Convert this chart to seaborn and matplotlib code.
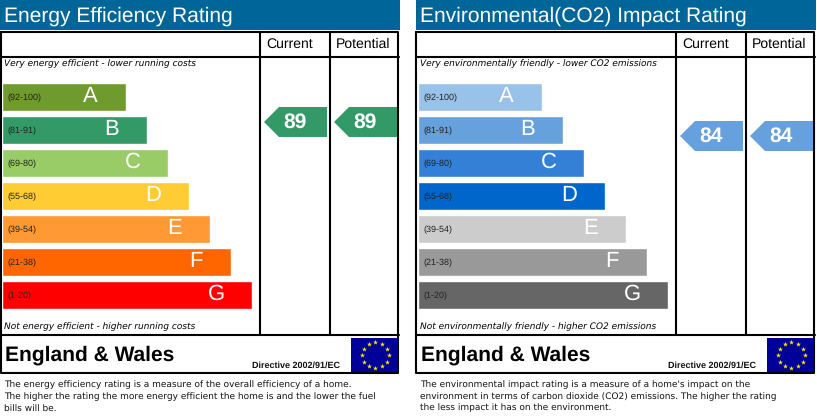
import numpy as np
import pandas as pd
import matplotlib
matplotlib.use('Agg')
import matplotlib.pyplot as plt
import seaborn as sns

W, H = 817, 419

bands = ['A', 'B', 'C', 'D', 'E', 'F', 'G']
ranges = ['(92-100)', '(81-91)', '(69-80)', '(55-68)', '(39-54)', '(21-38)', '(1-20)']
# bar lengths, same in both panels
lengths = [124, 145, 166, 187, 208, 229, 250]
energy_colors = ['#6f9a2e', '#339966', '#99cc66', '#ffcc33', '#ff9933', '#ff6600', '#ff0000']
co2_colors = ['#99c2eb', '#66a0dd', '#3380d6', '#0066cc', '#cccccc', '#999999', '#666666']

energy_current = 89
energy_potential = 89
co2_current = 84
co2_potential = 84

energy_title = 'Energy Efficiency Rating'
co2_title = 'Environmental(CO2) Impact Rating'
energy_top = 'Very energy efficient - lower running costs'
energy_bottom = 'Not energy efficient - higher running costs'
co2_top = 'Very environmentally friendly - lower CO2 emissions'
co2_bottom = 'Not environmentally friendly - higher CO2 emissions'
energy_notes = ['The energy efficiency rating is a measure of the overall efficiency of a home.',
                'The higher the rating the more energy efficient the home is and the lower the fuel',
                'bills will be.']
co2_notes = ["The environmental impact rating is a measure of a home's impact on the",
             'environment in terms of carbon dioxide (CO2) emissions. The higher the rating',
             'the less impact it has on the environment.']

sns.set_theme(style='white')
plt.rcParams['font.family'] = ['Liberation Sans', 'DejaVu Sans']
plt.rcParams['text.hinting'] = 'no_hinting'
plt.rcParams['text.hinting_factor'] = 1

fig = plt.figure(figsize=(W / 100, H / 100), dpi=100)
# page axes in pixel units, used for the frame and the text
page = fig.add_axes([0, 0, 1, 1])
page.set_xlim(0, W)
page.set_ylim(H, 0)
page.axis('off')


def rating_y(rating):
    # pointer height follows the rating: 89 sits at y=122, 84 at y=136
    return 122 + (89 - rating) * 2.8


def pointer(x0, rating, color):
    y = rating_y(rating)
    page.fill([x0, x0 + 15, x0 + 63, x0 + 63, x0 + 15],
              [y, y - 15, y - 15, y + 15, y + 15], color=color, lw=0, zorder=3)
    page.text(x0 + 31.5, y, str(rating), color='white', fontsize=14.8,
              fontweight='bold', ha='center', va='center', zorder=4)


def panel(x0, title, top, bottom, colors, current, potential, notes):
    page.fill_between([x0, x0 + 400], 0, 30, color='#006699', lw=0)
    page.text(x0 + 4, 16, title, color='white', fontsize=14.85, va='center')

    # frame
    lw = 1.5
    page.plot([x0 + 0.5, x0 + 398.5, x0 + 398.5, x0 + 0.5, x0 + 0.5],
              [32.5, 32.5, 373, 373, 32.5], color='black', lw=lw)
    page.plot([x0, x0 + 399], [57, 57], color='black', lw=lw)
    page.plot([x0, x0 + 399], [335, 335], color='black', lw=lw)
    page.plot([x0 + 260, x0 + 260], [32, 335], color='black', lw=lw)
    page.plot([x0 + 330, x0 + 330], [32, 335], color='black', lw=lw)
    page.text(x0 + 290, 44, 'Current', color='black', fontsize=10.3, ha='center', va='center')
    page.text(x0 + 363, 44, 'Potential', color='black', fontsize=10.3, ha='center', va='center')

    page.text(x0 + 4, 64, top, color='black', fontsize=6.6, style='italic',
              family='DejaVu Sans', va='center')
    page.text(x0 + 4, 327, bottom, color='black', fontsize=6.6, style='italic',
              family='DejaVu Sans', va='center')

    # bars get their own axes, 1 unit = 1 pixel along x
    left, right, upper, lower = x0 + 2, x0 + 258, 80.5, 311.5
    ax = fig.add_axes([left / W, 1 - lower / H, (right - left) / W, (lower - upper) / H])
    df = pd.DataFrame({'band': bands, 'length': lengths})
    sns.barplot(data=df, x='length', y='band', hue='band', palette=colors, order=bands,
                hue_order=bands, dodge=False, width=0.85, saturation=1, legend=False, ax=ax)
    ax.set_xlim(0, right - left)
    ax.set_ylim(6.5, -0.5)
    ax.axis('off')
    ax.patch.set_alpha(0)
    for i, (band, rng, length) in enumerate(zip(bands, ranges, lengths)):
        ax.text(5, i + 0.04, rng, color='#222222', fontsize=6.6, va='center')
        ax.text(length - 35.5, i - 0.03, band, color='white', fontsize=15.5, ha='center', va='center')

    pointer(x0 + 264, current, colors[1])
    pointer(x0 + 334, potential, colors[1])

    # footer
    page.text(x0 + 5, 355, 'England & Wales', color='black', fontsize=15.1,
              fontweight='bold', va='center')
    page.text(x0 + 252, 365, 'Directive 2002/91/EC', color='#111111', fontsize=6.6,
              fontweight='bold', va='center')
    page.fill_between([x0 + 351, x0 + 398], 338, 372, color='#000099', lw=0, zorder=3)
    ang = np.radians(np.arange(0, 360, 30))
    page.scatter(x0 + 375.5 + 13.5 * np.cos(ang), 355 + 13 * np.sin(ang), marker='*', s=14,
                 color='#ffee00', lw=0, zorder=4)

    for y, line in zip([385, 396.5, 408], notes):
        page.text(x0 + 4, y, line, color='#111111', fontsize=6.3, family='DejaVu Sans', va='center')


panel(0, energy_title, energy_top, energy_bottom, energy_colors,
      energy_current, energy_potential, energy_notes)
panel(416, co2_title, co2_top, co2_bottom, co2_colors,
      co2_current, co2_potential, co2_notes)

plt.savefig('out.png', dpi=100, facecolor='white')
plt.close()
